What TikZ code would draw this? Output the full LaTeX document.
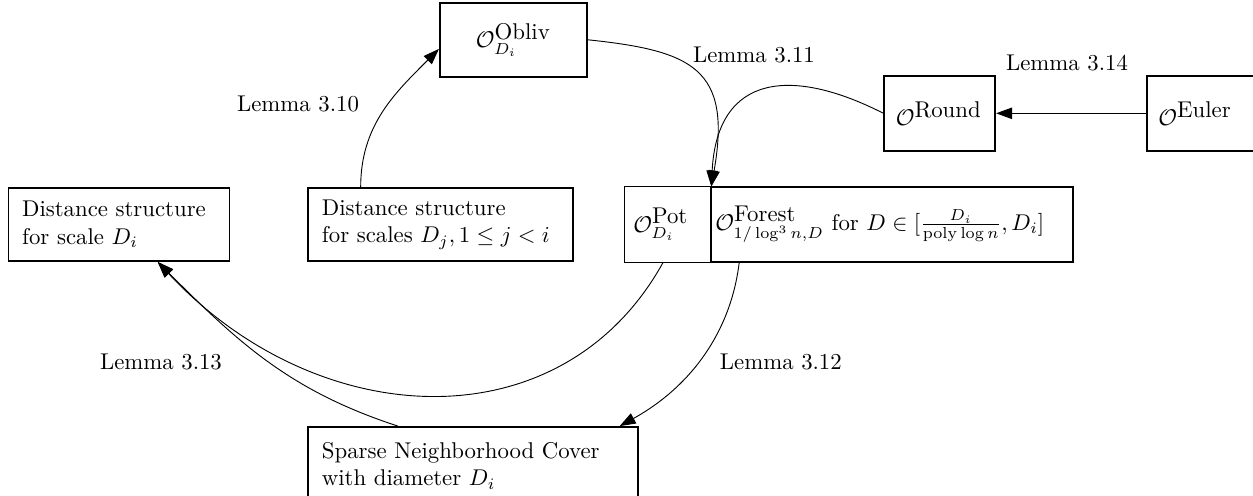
\documentclass[tikz,border=0pt]{standalone}
\usepackage{amsmath,amssymb}
\usepackage{tikz}
\usetikzlibrary{positioning,arrows.meta}
\tikzstyle{block} = [draw,rectangle,thick,fill=white,inner xsep=6pt,minimum height=33pt]
\tikzstyle{textBlock} = [block,align=left,minimum height=32pt]
\tikzstyle{lemma} = [inner sep=0pt]
\tikzstyle{arrowLine} = [draw,-{Triangle[length=7pt,width=5pt]}]

\begin{document}
\begin{tikzpicture}
		\useasboundingbox (0,0) rectangle (549.6pt,-217.5pt);
		\node[textBlock,text width=85pt](distI) at (52.2pt,-98.5pt){Distance structure\\for scale $D_i$};
		\node[textBlock,text width=104pt,right=33.7pt of distI](distJ){Distance structure\\for scales $D_j, 1 \le j < i$};
		\node[textBlock,thin,inner xsep=4pt,text width=30pt,minimum height=33pt,right=22pt of distJ](pot){$\mathcal{O}^{\mbox{Pot}}_{D_i}$};
		\node[textBlock,inner xsep=2pt,text width=154.8pt,minimum height=33pt,right=0pt of pot,xshift=-0.6pt](forest){$\mathcal{O}^{\mbox{Forest}}_{1/\log^3 n, D}$ for $D \in [\frac{D_i}{\mathrm{poly}\log n}, D_i]$};
		\node[block,minimum width=64.5pt,minimum height=32.5pt,above=48pt of distJ,xshift=32pt](obliv){$\mathcal{O}^{\mbox{Obliv}}_{D_i}$};
		\node[textBlock,inner xsep=5pt,text width=38.6pt,minimum height=33pt,above=15pt of forest,xshift=21pt](round){$\mathcal{O}^{\mbox{Round}}$};
		\node[textBlock,inner xsep=5pt,text width=38.6pt,minimum height=33pt,right=65.8pt of round](euler){$\mathcal{O}^{\mbox{Euler}}$};
		\node[textBlock,text width=132.7pt,minimum height=34pt,below right=72pt and 0pt of distJ.south west](sparse){Sparse Neighborhood Cover\\with diameter $D_i$};
		%labels
		\node[lemma](lemma10) at (130.7pt,-45.6pt){Lemma 3.10};
		\node[lemma](lemma11) at (330.7pt,-24.1pt){Lemma 3.11};
		\node[lemma](lemma14) at (468pt,-27.6pt){Lemma 3.14};
		\node[lemma](lemma13) at (70.6pt,-158.7pt){Lemma 3.13};
		\node[lemma](lemma12) at (342.5pt,-158.7pt){Lemma 3.12};
		%arrows
		\path[arrowLine]([xshift=-35pt]distJ.north) to[out=90,in=225] ([yshift=-4pt]obliv.west);
		\path[arrowLine](obliv.east) to[out=-6,in=80,out looseness=1.4,in looseness=1.6] (pot.north east);
		\path[arrowLine](round.west) to[out=153,in=87,out looseness=1.4,in looseness=1.55] (pot.north east);
		\path[arrowLine](euler) -- (round);
		\path[arrowLine]([xshift=-2pt]pot.south) to[out=-119,in=-47,out looseness=1.06,in looseness=1.19] ([xshift=17pt]distI.south);
		\path[arrowLine]([xshift=-33pt]sparse.north) to[out=162,in=-45] ([xshift=17pt]distI.south);
		\path[arrowLine]([xshift=-67pt]forest.south) to[out=-97,in=29,out looseness=0.86,in looseness=1.05] ([xshift=-8.5pt]sparse.north east);
	\end{tikzpicture}
\end{document}
